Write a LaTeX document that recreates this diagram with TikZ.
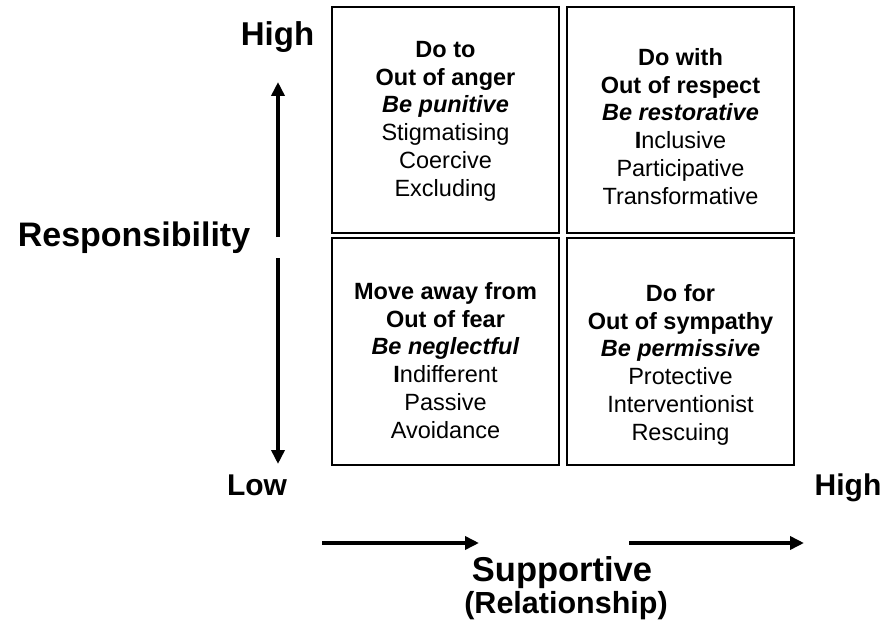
\documentclass[tikz,border=0pt]{standalone}
\usepackage{fontspec}
\setmainfont{Liberation Sans}
\usetikzlibrary{arrows.meta}
\newcommand{\fsz}[2]{\fontsize{#1}{#2}\selectfont}
\tikzset{
  quad/.style={draw=black, line width=1.8pt},
  quadtext/.style={anchor=north, inner sep=0pt, align=center, font=\fsz{23.5}{27.8}},
  axislabel/.style={anchor=base, inner sep=0pt, font=\bfseries},
  axisarrow/.style={line width=3.6pt, -{Triangle[length=14pt,width=13pt]}},
}
\begin{document}
\begin{tikzpicture}[x=1pt, y=-1pt]
  \useasboundingbox (0,0) rectangle (886,623);

  % quadrants
  \draw[quad] (332,7) rectangle (559,233);
  \draw[quad] (567,7) rectangle (794,233);
  \draw[quad] (332,238) rectangle (559,465);
  \draw[quad] (567,238) rectangle (794,465);

  \node[quadtext] (doto) at (445.5,41) {\textbf{Do to}\\ \textbf{Out of anger}\\ \textbf{\textit{Be punitive}}\\ Stigmatising\\ Coercive\\ Excluding};
  \node[quadtext] (dowith) at (680.5,48) {\textbf{Do with}\\ \textbf{Out of respect}\\ \textbf{\textit{Be restorative}}\\ \textbf{I}nclusive\\ Participative\\ Transformative};
  \node[quadtext] (moveaway) at (445.5,282) {\textbf{Move away from}\\ \textbf{Out of fear}\\ \textbf{\textit{Be neglectful}}\\ \textbf{I}ndifferent\\ Passive\\ Avoidance};
  \node[quadtext] (dofor) at (680.5,284) {\textbf{Do for}\\ \textbf{Out of sympathy}\\ \textbf{\textit{Be permissive}}\\ Protective\\ Interventionist\\ Rescuing};

  % axis labels
  \node[axislabel, font=\bfseries\fsz{33}{36}] (hightop) at (277.5,46) {High};
  \node[axislabel, font=\bfseries\fsz{30}{33}] (low) at (257,495) {Low};
  \node[axislabel, font=\bfseries\fsz{30}{33}] (highright) at (848,495) {High};
  \node[axislabel, font=\bfseries\fsz{34}{37}] (resp) at (134,246) {Responsibility};
  \node[axislabel, font=\bfseries\fsz{34.5}{37}] (supp) at (562,581) {Supportive};
  \node[axislabel, font=\bfseries\fsz{30.5}{33}] (rel) at (566,613) {(Relationship)};

  % axis arrows
  \coordinate (vupstart) at (278,237);
  \coordinate (vupend) at (278,82);
  \coordinate (vdnstart) at (278,258);
  \coordinate (vdnend) at (278,464);
  \coordinate (hastart) at (322,543);
  \coordinate (haend) at (479,543);
  \coordinate (hbstart) at (629,543);
  \coordinate (hbend) at (804,543);
  \draw[axisarrow] (vupstart) -- (vupend);
  \draw[axisarrow] (vdnstart) -- (vdnend);
  \draw[axisarrow] (hastart) -- (haend);
  \draw[axisarrow] (hbstart) -- (hbend);
\end{tikzpicture}
\end{document}
